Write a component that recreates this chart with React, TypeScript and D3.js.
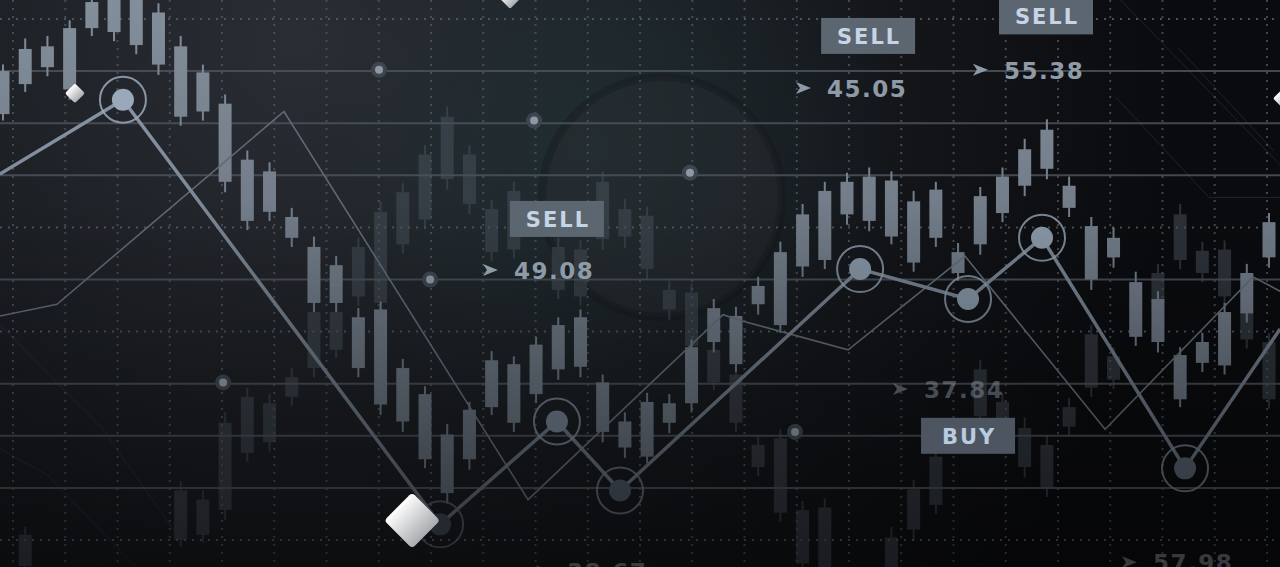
import * as d3 from "d3";

// chart frame
const W = 1280;
const H = 567;

// foreground candles, one per session 0..57 (open = top of body, close = bottom)
const fgOpen = [56.0, 57.7, 57.9, 59.3, 61.3, 62.0, 62.0, 60.5, 57.9, 55.9, 53.5, 49.2, 48.3, 44.8, 42.5, 41.1, 37.1, 37.7, 33.2, 31.2, 28.1, 30.0, 33.8, 33.5, 35.0, 36.5, 37.1, 32.1, 29.1, 30.6, 30.5, 34.8, 37.8, 37.2, 39.5, 42.1, 45.0, 46.8, 47.5, 47.9, 47.6, 46.0, 46.9, 42.1, 46.4, 47.9, 50.0, 51.5, 47.2, 44.1, 43.2, 39.8, 38.5, 34.2, 35.2, 37.5, 40.5, 44.4];
const fgClose = [52.7, 55.0, 56.3, 54.6, 59.3, 59.0, 58.0, 56.5, 52.5, 52.9, 47.5, 44.5, 45.2, 43.2, 38.2, 38.2, 33.2, 30.4, 29.1, 26.2, 23.6, 26.2, 30.2, 29.0, 31.2, 33.1, 33.3, 28.3, 27.1, 26.4, 29.0, 30.5, 35.2, 33.5, 38.1, 36.5, 41.0, 41.5, 45.0, 44.5, 43.3, 41.3, 43.2, 40.5, 42.7, 45.1, 47.2, 48.5, 45.5, 40.0, 41.7, 35.6, 35.2, 30.8, 33.6, 33.4, 37.4, 41.7];
const fgHigh = [56.5, 58.5, 58.7, 59.9, 62.0, 62.5, 62.5, 61.2, 58.7, 56.5, 54.2, 49.9, 49.0, 45.5, 43.3, 41.8, 37.8, 38.3, 33.9, 31.8, 28.9, 30.6, 34.5, 34.1, 35.6, 37.1, 37.7, 32.7, 29.8, 31.3, 31.2, 35.4, 38.5, 37.9, 40.2, 42.9, 45.8, 47.5, 48.2, 48.6, 48.3, 46.8, 47.5, 42.8, 47.1, 48.6, 50.8, 52.3, 47.9, 44.8, 44.0, 40.6, 39.1, 34.8, 35.9, 38.2, 41.2, 45.1];
const fgLow = [52.2, 54.4, 55.6, 53.8, 58.7, 58.3, 57.3, 55.7, 51.8, 52.2, 46.7, 43.8, 44.5, 42.5, 37.5, 37.5, 32.5, 29.6, 28.3, 25.5, 22.8, 25.4, 29.6, 28.3, 30.5, 32.3, 32.5, 27.5, 26.3, 25.9, 28.2, 29.8, 34.4, 32.9, 37.3, 35.9, 40.2, 40.8, 44.2, 43.7, 42.7, 40.6, 42.5, 39.9, 41.9, 44.4, 46.4, 47.7, 44.8, 39.2, 40.9, 34.9, 34.4, 30.2, 32.9, 32.7, 36.7, 40.9];

// faded background candles
const bgSlot = [1, 8, 9, 10, 11, 12, 13, 14, 15, 16, 17, 18, 19, 20, 21, 22, 23, 25, 26, 27, 28, 29, 30, 31, 32, 33, 34, 35, 36, 37, 40, 41, 42, 44, 45, 46, 47, 48, 49, 50, 52, 53, 54, 55, 56, 57];
const bgOpen = [20.4, 23.8, 23.1, 29.0, 31.0, 30.5, 32.5, 37.5, 37.5, 42.5, 45.2, 46.7, 49.6, 52.5, 49.6, 45.4, 46.8, 42.5, 42.3, 47.5, 45.4, 44.9, 39.2, 39.0, 34.6, 32.7, 27.3, 27.8, 22.3, 22.5, 20.2, 23.9, 26.4, 33.1, 30.6, 28.6, 27.3, 30.2, 35.8, 34.1, 40.5, 45.0, 42.2, 42.3, 37.5, 35.2];
const bgClose = [18.0, 20.0, 20.4, 22.3, 26.7, 27.5, 31.0, 33.2, 34.6, 38.7, 38.2, 42.7, 44.6, 47.7, 45.8, 42.1, 42.3, 39.2, 38.7, 43.1, 43.3, 40.8, 37.7, 34.9, 32.1, 29.0, 25.6, 22.1, 18.2, 17.9, 17.9, 20.8, 22.7, 29.5, 29.1, 25.6, 24.0, 28.7, 31.7, 32.3, 38.2, 41.5, 40.5, 38.7, 35.4, 30.8];
const bgHigh = [21.0, 24.5, 23.8, 29.8, 31.7, 31.2, 33.2, 38.2, 38.1, 43.2, 46.0, 47.4, 50.3, 53.3, 50.3, 46.1, 47.5, 43.2, 43.0, 48.3, 46.2, 45.6, 39.9, 39.7, 35.2, 33.4, 28.0, 28.5, 23.0, 23.2, 21.0, 24.6, 27.1, 33.8, 31.3, 29.4, 28.0, 30.9, 36.5, 34.8, 41.2, 45.8, 42.9, 43.0, 38.2, 35.9];
const bgLow = [17.5, 19.5, 19.8, 21.5, 26.0, 26.8, 30.3, 32.5, 34.0, 38.0, 37.5, 42.0, 43.9, 46.9, 45.0, 41.4, 41.6, 38.5, 38.0, 42.3, 42.4, 40.0, 36.9, 34.2, 31.5, 28.3, 24.9, 21.4, 17.5, 17.0, 17.0, 20.0, 22.0, 28.8, 28.4, 24.8, 23.3, 28.0, 31.0, 31.6, 37.5, 40.8, 39.8, 38.0, 34.7, 30.1];

// bold zig-zag line (ringed points are 1..8)
const mainT = [-0.14, 5.4, 19.68, 24.94, 27.78, 38.59, 43.45, 46.78, 53.22, 57.5];
const mainP = [48.1, 53.8, 21.2, 29.1, 23.8, 40.8, 38.5, 43.2, 25.5, 36.2];

// thin trend line
const trendT = [-0.14, 2.43, 12.65, 23.64, 32.42, 33.32, 38.05, 43.31, 49.62, 56.28, 57.5];
const trendP = [37.2, 38.1, 52.9, 23.1, 37.3, 36.8, 34.6, 41.8, 28.5, 40.2, 39.1];

// small halo markers on the grid lines
const markT = [16.93, 23.91, 30.93, 19.23, 9.91, 35.66];
const markP = [56.1, 52.2, 48.2, 40.0, 32.1, 28.3];

// signal tags
const tagText = ["SELL", "SELL", "SELL", "BUY"];
const tagT = [24.94, 38.95, 46.96, 43.45];
const tagP = [44.65, 58.7, 60.2, 28.0];

// price labels (arrow position)
const priceText = ["49.08", "45.05", "55.38", "37.84", "57.98", "38.67"];
const priceT = [21.61, 35.7, 43.67, 40.07, 50.38, 24.0];
const priceP = [40.73, 54.7, 56.1, 31.6, 18.3, 17.6];
const priceTone = [1, 1, 1, 0.45, 0.35, 0.35];

// diamonds
const diamondT = [3.24, 18.42, 22.83, 57.63];
const diamondP = [54.3, 21.5, 61.7, 53.9];
const diamondR = [10, 28, 12, 10];

// grid levels
const solidLevels = [24, 28, 32, 40, 48, 52, 56];
const dottedLevels = [20, 36, 44, 60];
const gridCols = d3.range(0, 25);

// faint circuit traces
const traceT = [
  [50.3, 57.5],
  [52.9, 57.2],
  [50.1, 54.3, 57.5],
  [-0.14, 4.5, 8.0],
  [-0.14, 2.0, 6.5],
];
const traceP = [
  [61.5, 48.8],
  [57.8, 49.9],
  [54.0, 46.3, 46.3],
  [36.5, 28.5, 20.0],
  [27.0, 25.0, 17.0],
];

const FONT = "'DejaVu Sans', Verdana, sans-serif";

export default function App() {
  const x = d3.scaleLinear().domain([0, 57]).range([3, 1269]);
  const y = d3.scaleLinear().domain([20, 60]).range([540, 19]);
  const gx = d3.scaleLinear().domain([0, 24]).range([13, 1267]);
  const bodyW = 13;

  const lineGen = d3
    .line<[number, number]>()
    .x((d) => x(d[0]))
    .y((d) => y(d[1]));

  const mainPts = mainT.map((t, i) => [t, mainP[i]] as [number, number]);
  const trendPts = trendT.map((t, i) => [t, trendP[i]] as [number, number]);

  const dotColor = d3
    .scaleLinear<string>()
    .domain([22, 30, 54])
    .range(["#3b444f", "#72808f", "#9aa9b9"])
    .clamp(true);

  return (
    <div style={{ position: "absolute", left: 0, top: 0, width: W, height: H, overflow: "hidden" }}>
      <svg width={W} height={H} style={{ display: "block" }}>
        <defs>
          <radialGradient id="bgGlow" cx="300" cy="40" r="880" gradientUnits="userSpaceOnUse">
            <stop offset="0" stopColor="#2a2d33" />
            <stop offset="0.45" stopColor="#1a1d22" />
            <stop offset="1" stopColor="#0a0b0e" />
          </radialGradient>
          <radialGradient id="teal" cx="600" cy="150" r="300" gradientUnits="userSpaceOnUse">
            <stop offset="0" stopColor="#22393b" stopOpacity="0.5" />
            <stop offset="1" stopColor="#22393b" stopOpacity="0" />
          </radialGradient>
          <linearGradient id="shade" x1="0" y1="0" x2="0" y2={H} gradientUnits="userSpaceOnUse">
            <stop offset="0.35" stopColor="#000" stopOpacity="0" />
            <stop offset="1" stopColor="#000" stopOpacity="0.45" />
          </linearGradient>
          <linearGradient id="fgGrad" x1="0" y1="0" x2="0" y2={H} gradientUnits="userSpaceOnUse">
            <stop offset="0" stopColor="#838e9b" />
            <stop offset="1" stopColor="#56606b" />
          </linearGradient>
          <linearGradient id="lineGrad" x1="0" y1="90" x2="0" y2="530" gradientUnits="userSpaceOnUse">
            <stop offset="0" stopColor="#8895a4" />
            <stop offset="1" stopColor="#5a6470" />
          </linearGradient>
          <linearGradient id="diamondGrad" x1="0" y1="0" x2="1" y2="0">
            <stop offset="0" stopColor="#ffffff" />
            <stop offset="1" stopColor="#a9abae" />
          </linearGradient>
        </defs>

        {/* background */}
        <rect width={W} height={H} fill="url(#bgGlow)" />
        <rect width={W} height={H} fill="url(#teal)" />
        <circle cx={662} cy={197} r={120} fill="#2a2d33" fillOpacity={0.4} stroke="#121418" strokeWidth={8} strokeOpacity={0.3} />

        {/* circuit traces */}
        <g fill="none" stroke="#2d3852" strokeWidth={1} opacity={0.55}>
          {traceT.map((ts, i) => (
            <path key={i} d={lineGen(ts.map((t, j) => [t, traceP[i][j]] as [number, number])) || ""} />
          ))}
        </g>

        {/* grid */}
        <g>
          {gridCols.map((c) => (
            <line key={"v" + c} x1={gx(c)} x2={gx(c)} y1={0} y2={H} stroke="#535a63" strokeWidth={2} strokeDasharray="2 6" opacity={0.75} />
          ))}
          {dottedLevels.map((l) => (
            <line key={"d" + l} x1={0} x2={W} y1={y(l)} y2={y(l)} stroke="#5a616a" strokeWidth={2} strokeDasharray="2 6" opacity={0.8} />
          ))}
          {solidLevels.map((l) => (
            <line key={"s" + l} x1={0} x2={W} y1={y(l)} y2={y(l)} stroke="#4c535b" strokeWidth={2} opacity={0.85} />
          ))}
        </g>

        {/* faded candles */}
        <g fill="#47505a" stroke="#47505a" opacity={0.55}>
          {bgSlot.map((s, i) => (
            <g key={i}>
              <line x1={x(s)} x2={x(s)} y1={y(bgHigh[i])} y2={y(bgLow[i])} strokeWidth={2} />
              <rect x={x(s) - bodyW / 2} y={y(bgOpen[i])} width={bodyW} height={y(bgClose[i]) - y(bgOpen[i])} stroke="none" />
            </g>
          ))}
        </g>

        {/* candles */}
        <g fill="url(#fgGrad)" stroke="url(#fgGrad)">
          {fgOpen.map((o, i) => (
            <g key={i}>
              <line x1={x(i)} x2={x(i)} y1={y(fgHigh[i])} y2={y(fgLow[i])} strokeWidth={2} />
              <rect x={x(i) - bodyW / 2} y={y(o)} width={bodyW} height={y(fgClose[i]) - y(o)} stroke="none" />
            </g>
          ))}
        </g>

        {/* trend lines */}
        <path d={lineGen(trendPts) || ""} fill="none" stroke="#5f6975" strokeWidth={1.6} />
        <path d={lineGen(mainPts) || ""} fill="none" stroke="url(#lineGrad)" strokeWidth={3.5} strokeLinejoin="round" />

        {/* halo markers */}
        {markT.map((t, i) => (
          <g key={i}>
            <circle cx={x(t)} cy={y(markP[i])} r={8} fill="#3e454e" />
            <circle cx={x(t)} cy={y(markP[i])} r={4} fill="#8d98a5" />
          </g>
        ))}

        {/* ringed points */}
        {mainPts.slice(1, 9).map((d, i) => (
          <g key={i}>
            <circle cx={x(d[0])} cy={y(d[1])} r={23} fill="none" stroke={dotColor(d[1] + 4)} strokeWidth={2} opacity={0.85} />
            <circle cx={x(d[0])} cy={y(d[1])} r={11} fill={dotColor(d[1])} />
          </g>
        ))}

        <rect width={W} height={H} fill="url(#shade)" />

        {/* price labels */}
        {priceText.map((txt, i) => {
          const px = x(priceT[i]);
          const py = y(priceP[i]);
          return (
            <g key={txt} opacity={priceTone[i]} fill="#8f9aa7">
              <path d={`M${px},${py - 6} L${px + 15},${py} L${px},${py + 6} L${px + 4},${py} Z`} />
              <text x={px + 31} y={py + 9} fontFamily={FONT} fontWeight={700} fontSize={23} letterSpacing={1.5}>
                {txt}
              </text>
            </g>
          );
        })}

        {/* signal tags */}
        {tagText.map((txt, i) => {
          const cx = x(tagT[i]);
          const cy = y(tagP[i]);
          const buy = txt === "BUY";
          return (
            <g key={i}>
              <rect x={cx - 47} y={cy - 18} width={94} height={36} fill={buy ? "#4d5660" : "#5c6671"} />
              <text x={cx + 1} y={cy + 8} textAnchor="middle" fill={buy ? "#b8cbe0" : "#c6d5e6"} fontFamily={FONT} fontWeight={700} fontSize={21} letterSpacing={2}>
                {txt}
              </text>
            </g>
          );
        })}

        {/* diamonds */}
        {diamondT.map((t, i) => {
          const side = diamondR[i] * Math.SQRT2;
          return (
            <rect
              key={i}
              x={-side / 2}
              y={-side / 2}
              width={side}
              height={side}
              rx={diamondR[i] > 20 ? 4 : 2}
              fill="url(#diamondGrad)"
              transform={`translate(${x(t)},${y(diamondP[i])}) rotate(45)`}
            />
          );
        })}
      </svg>
    </div>
  );
}
